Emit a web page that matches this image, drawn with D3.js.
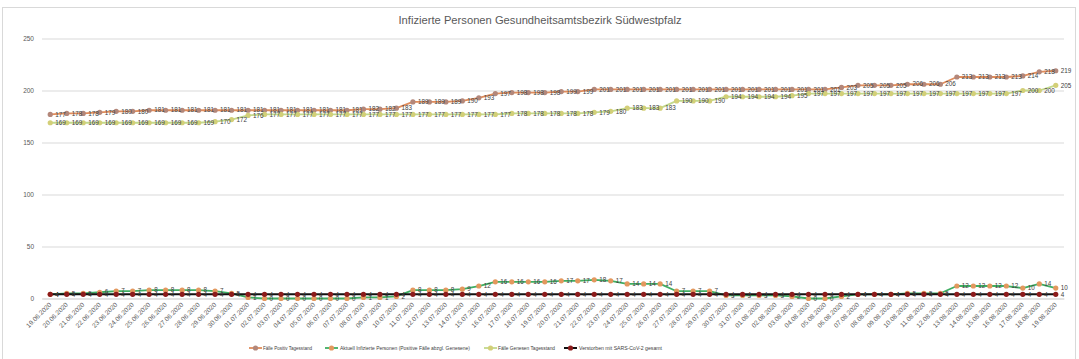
<!DOCTYPE html>
<html><head><meta charset="utf-8">
<script src="https://cdn.jsdelivr.net/npm/d3@7"></script>
<style>
body{margin:0;background:#fff}
svg{display:block}
text{font-family:"Liberation Sans",Arial,sans-serif}
</style>
</head><body>
<svg id="c" width="1079" height="359"></svg>
<script>
const title = "Infizierte Personen Gesundheitsamtsbezirk Südwestpfalz";
const dates = ["19.06.2020","20.06.2020","21.06.2020","22.06.2020","23.06.2020","24.06.2020","25.06.2020","26.06.2020","27.06.2020","28.06.2020","29.06.2020","30.06.2020",
"01.07.2020","02.07.2020","03.07.2020","04.07.2020","05.07.2020","06.07.2020","07.07.2020","08.07.2020","09.07.2020","10.07.2020","11.07.2020","12.07.2020","13.07.2020","14.07.2020","15.07.2020","16.07.2020","17.07.2020","18.07.2020","19.07.2020","20.07.2020","21.07.2020","22.07.2020","23.07.2020","24.07.2020","25.07.2020","26.07.2020","27.07.2020","28.07.2020","29.07.2020","30.07.2020","31.07.2020",
"01.08.2020","02.08.2020","03.08.2020","04.08.2020","05.08.2020","06.08.2020","07.08.2020","08.08.2020","09.08.2020","10.08.2020","11.08.2020","12.08.2020","13.08.2020","14.08.2020","15.08.2020","16.08.2020","17.08.2020","18.08.2020","19.08.2020"];
const positiv = [177,178,178,179,180,180,181,181,181,181,181,181,181,181,181,181,181,181,181,182,182,183,189,189,189,190,193,197,198,198,198,199,199,201,201,201,201,201,201,201,201,201,201,201,201,201,201,201,203,205,205,205,206,206,206,213,213,213,213,214,218,219];
const aktuell = [4,5,5,6,7,7,8,8,8,8,7,5,1,0,0,0,0,0,0,1,1,2,8,8,8,9,12,16,16,16,16,17,17,18,17,14,14,14,7,7,7,3,3,3,3,2,0,0,2,4,4,4,5,5,5,12,12,12,12,10,14,10];
const genesen = [169,169,169,169,169,169,169,169,169,169,170,172,176,177,177,177,177,177,177,177,177,177,177,177,177,177,177,177,178,178,178,178,178,179,180,183,183,183,190,190,190,194,194,194,194,195,197,197,197,197,197,197,197,197,197,197,197,197,197,200,200,205];
const verstorben = [4,4,4,4,4,4,4,4,4,4,4,4,4,4,4,4,4,4,4,4,4,4,4,4,4,4,4,4,4,4,4,4,4,4,4,4,4,4,4,4,4,4,4,4,4,4,4,4,4,4,4,4,4,4,4,4,4,4,4,4,4,4];
const yTicks = [0,50,100,150,200,250];
const seriesNames = ["Fälle Positiv Tagesstand","Aktuell Infizierte Personen (Positive Fälle abzgl. Genesene)","Fälle Genesen Tagesstand","Verstorben mit SARS-CoV-2 gesamt"];

const styles = [
  {line:"#e08d5c", marker:"#b3877a", w:1.8},
  {line:"#3fae63", marker:"#e3985e", w:1.8},
  {line:"#c2d98c", marker:"#d3cf78", w:1.8},
  {line:"#111111", marker:"#8c1b1b", w:2}
];
const allSeries = [positiv, aktuell, genesen, verstorben];

const svg = d3.select("#c");
// chart area border
svg.append("rect").attr("x",2.5).attr("y",7.5).attr("width",1073).attr("height",400)
  .attr("fill","#fff").attr("stroke","#d9d9d9").attr("stroke-width",1);

svg.append("text").attr("x",540).attr("y",24).attr("text-anchor","middle")
  .attr("font-size",10.5).attr("fill","#595959").attr("textLength",283).attr("lengthAdjust","spacingAndGlyphs").text(title);

const x = d3.scaleBand().domain(dates).range([42,1064]);
const cx = d => x(d) + x.bandwidth()/2;
const y = d3.scaleLinear().domain([0,250]).range([298.5,38.5]);

// y axis + gridlines
const ya = svg.append("g").attr("transform","translate(42,0)")
  .call(d3.axisLeft(y).tickValues(yTicks).tickSize(-(1064-42)).tickPadding(8));
ya.select(".domain").remove();
ya.selectAll(".tick line").attr("stroke","#d9d9d9").attr("stroke-width",1);
ya.selectAll(".tick text").attr("font-size",6.5).attr("fill","#595959").attr("font-family","Liberation Sans, Arial, sans-serif");

// x axis
const xa = svg.append("g").attr("transform","translate(0,298.5)")
  .call(d3.axisBottom(x).tickSize(0));
xa.select(".domain").attr("stroke","#d9d9d9");
xa.selectAll(".tick text").attr("font-size",6.5).attr("fill","#595959")
  .attr("font-family","Liberation Sans, Arial, sans-serif")
  .attr("text-anchor","end").attr("y",0).attr("dy","0.35em")
  .attr("transform","translate(0,5) rotate(-45)");

const line = d3.line().x((v,i)=>cx(dates[i])).y(v=>y(v));

allSeries.forEach((s,k)=>{
  const g = svg.append("g");
  g.append("path").datum(s).attr("d",line).attr("fill","none")
    .attr("stroke",styles[k].line).attr("stroke-width",styles[k].w).attr("stroke-linejoin","round");
  g.selectAll("circle").data(s).join("circle")
    .attr("cx",(v,i)=>cx(dates[i])).attr("cy",v=>y(v)).attr("r",2.6)
    .attr("fill",styles[k].marker);
});

allSeries.forEach((s,k)=>{
  svg.append("g").selectAll("text").data(s).join("text")
    .attr("x",(v,i)=>cx(dates[i])+5).attr("y",v=>y(v)).attr("dy","0.35em")
    .attr("font-size",6.3).attr("fill","#404040").text(v=>v);
});

// legend
const leg = [
  {x:249, tx:263, w:49},
  {x:325, tx:340, w:130},
  {x:484, tx:498, w:57},
  {x:564, tx:579, w:83}
];
seriesNames.forEach((n,k)=>{
  const g = svg.append("g");
  g.append("line").attr("x1",leg[k].x).attr("x2",leg[k].x+13).attr("y1",348).attr("y2",348)
    .attr("stroke",styles[k].line).attr("stroke-width",styles[k].w);
  g.append("circle").attr("cx",leg[k].x+6.5).attr("cy",348).attr("r",2.6).attr("fill",styles[k].marker);
  g.append("text").attr("x",leg[k].tx).attr("y",348).attr("dy","0.35em").attr("font-size",6)
    .attr("fill","#404040").attr("textLength",leg[k].w).attr("lengthAdjust","spacingAndGlyphs").text(n);
});
</script>
</body></html>
